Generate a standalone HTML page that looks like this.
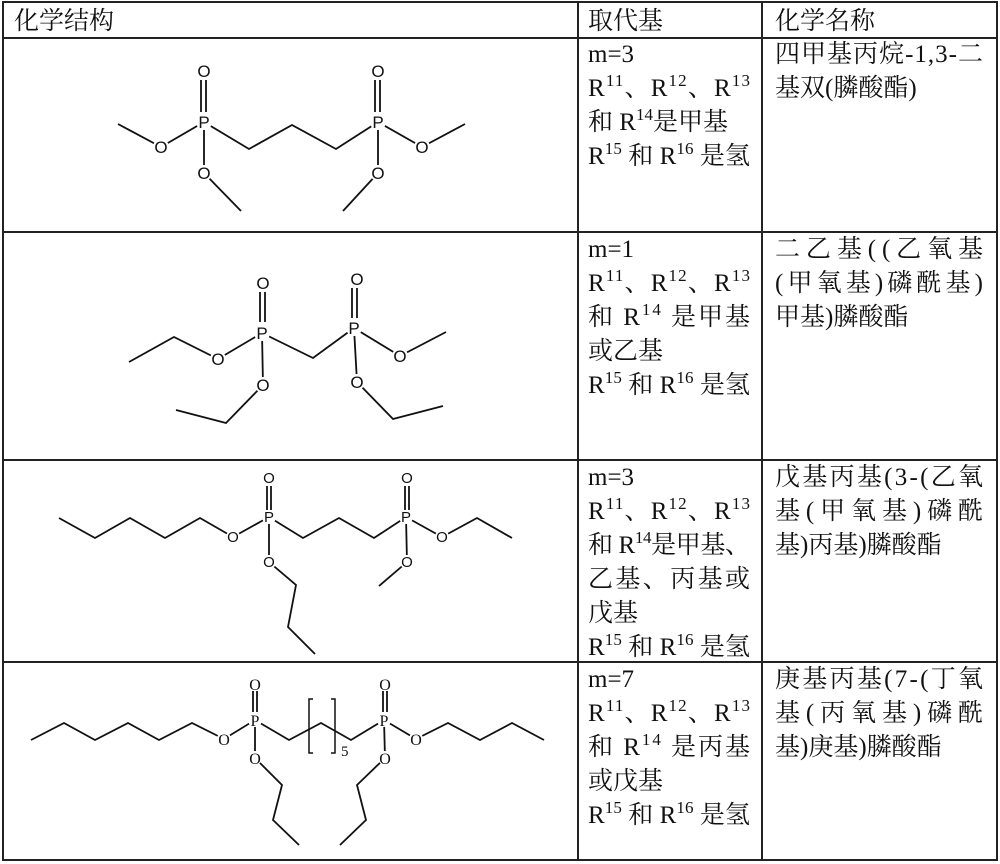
<!DOCTYPE html>
<html><head><meta charset="utf-8"><style>
html,body{margin:0;padding:0;background:#fff;}
svg{display:block;}
.t{font-family:"Liberation Serif","Noto Serif CJK SC",serif;font-size:25px;fill:#111;}
.s{font-size:17px;}
.a{font-family:"Liberation Sans",sans-serif;font-size:17px;fill:#111;text-anchor:middle;}
.b{stroke:#111;stroke-width:1.8;fill:none;}
</style></head><body>
<svg width="1000" height="864" viewBox="0 0 1000 864" xmlns="http://www.w3.org/2000/svg">
<g stroke="#222" stroke-width="2" fill="none">
<rect x="3" y="2" width="994" height="858"/>
<line x1="3" y1="38" x2="997" y2="38"/>
<line x1="3" y1="232" x2="997" y2="232"/>
<line x1="3" y1="460" x2="997" y2="460"/>
<line x1="3" y1="662" x2="997" y2="662"/>
<line x1="578" y1="2" x2="578" y2="860"/>
<line x1="762" y1="2" x2="762" y2="860"/>
</g>
<text class="t" x="14" y="29">化学结构</text>
<text class="t" x="588" y="29">取代基</text>
<text class="t" x="775" y="29">化学名称</text>

<text class="t" x="588" y="62">m=3</text>
<text class="t" x="588" y="96" textLength="162" lengthAdjust="spacing">R<tspan class="s" dy="-10">11</tspan><tspan dy="10">、R</tspan><tspan class="s" dy="-10">12</tspan><tspan dy="10">、R</tspan><tspan class="s" dy="-10">13</tspan></text>
<text class="t" x="588" y="130">和 R<tspan class="s" dy="-10">14</tspan><tspan dy="10">是甲基</tspan></text>
<text class="t" x="588" y="164" textLength="162" lengthAdjust="spacing">R<tspan class="s" dy="-10">15</tspan><tspan dy="10"> 和 R</tspan><tspan class="s" dy="-10">16</tspan><tspan dy="10"> 是氢</tspan></text>

<text class="t" x="588" y="257">m=1</text>
<text class="t" x="588" y="291" textLength="162" lengthAdjust="spacing">R<tspan class="s" dy="-10">11</tspan><tspan dy="10">、R</tspan><tspan class="s" dy="-10">12</tspan><tspan dy="10">、R</tspan><tspan class="s" dy="-10">13</tspan></text>
<text class="t" x="588" y="325" textLength="162" lengthAdjust="spacing">和 R<tspan class="s" dy="-10">14</tspan><tspan dy="10"> 是甲基</tspan></text>
<text class="t" x="588" y="359">或乙基</text>
<text class="t" x="588" y="393" textLength="162" lengthAdjust="spacing">R<tspan class="s" dy="-10">15</tspan><tspan dy="10"> 和 R</tspan><tspan class="s" dy="-10">16</tspan><tspan dy="10"> 是氢</tspan></text>

<text class="t" x="588" y="485">m=3</text>
<text class="t" x="588" y="519" textLength="162" lengthAdjust="spacing">R<tspan class="s" dy="-10">11</tspan><tspan dy="10">、R</tspan><tspan class="s" dy="-10">12</tspan><tspan dy="10">、R</tspan><tspan class="s" dy="-10">13</tspan></text>
<text class="t" x="588" y="553" textLength="162" lengthAdjust="spacing">和 R<tspan class="s" dy="-10">14</tspan><tspan dy="10">是甲基、</tspan></text>
<text class="t" x="588" y="587" textLength="162" lengthAdjust="spacing">乙基、丙基或</text>
<text class="t" x="588" y="621">戊基</text>
<text class="t" x="588" y="655" textLength="162" lengthAdjust="spacing">R<tspan class="s" dy="-10">15</tspan><tspan dy="10"> 和 R</tspan><tspan class="s" dy="-10">16</tspan><tspan dy="10"> 是氢</tspan></text>

<text class="t" x="588" y="687">m=7</text>
<text class="t" x="588" y="721" textLength="162" lengthAdjust="spacing">R<tspan class="s" dy="-10">11</tspan><tspan dy="10">、R</tspan><tspan class="s" dy="-10">12</tspan><tspan dy="10">、R</tspan><tspan class="s" dy="-10">13</tspan></text>
<text class="t" x="588" y="755" textLength="162" lengthAdjust="spacing">和 R<tspan class="s" dy="-10">14</tspan><tspan dy="10"> 是丙基</tspan></text>
<text class="t" x="588" y="789">或戊基</text>
<text class="t" x="588" y="823" textLength="162" lengthAdjust="spacing">R<tspan class="s" dy="-10">15</tspan><tspan dy="10"> 和 R</tspan><tspan class="s" dy="-10">16</tspan><tspan dy="10"> 是氢</tspan></text>

<text class="t" x="775" y="62" textLength="208" lengthAdjust="spacing">四甲基丙烷-1,3-二</text>
<text class="t" x="775" y="96">基双(膦酸酯)</text>
<text class="t" x="775" y="257" textLength="208" lengthAdjust="spacing">二乙基((乙氧基</text>
<text class="t" x="775" y="291" textLength="208" lengthAdjust="spacing">(甲氧基)磷酰基)</text>
<text class="t" x="775" y="325">甲基)膦酸酯</text>
<text class="t" x="775" y="485" textLength="208" lengthAdjust="spacing">戊基丙基(3-(乙氧</text>
<text class="t" x="775" y="519" textLength="208" lengthAdjust="spacing">基(甲氧基)磷酰</text>
<text class="t" x="775" y="553">基)丙基)膦酸酯</text>
<text class="t" x="775" y="687" textLength="208" lengthAdjust="spacing">庚基丙基(7-(丁氧</text>
<text class="t" x="775" y="721" textLength="208" lengthAdjust="spacing">基(丙氧基)磷酰</text>
<text class="t" x="775" y="755">基)庚基)膦酸酯</text>

<g class="b">
<polyline points="118,124 161,147 204,122 249,149 292,125 336,149 378,122 422,147 465,124"/>
<polyline points="204,122 204,173 241,211"/>
<polyline points="378,122 378,173 343,211"/>
<line x1="201" y1="80" x2="201" y2="112"/><line x1="206" y1="80" x2="206" y2="112"/>
<line x1="375" y1="80" x2="375" y2="112"/><line x1="380" y1="80" x2="380" y2="112"/>
</g>
<g fill="#fff"><circle cx="204" cy="71" r="8"/><circle cx="204" cy="122" r="8"/><circle cx="161" cy="147" r="8"/><circle cx="204" cy="173" r="8"/>
<circle cx="378" cy="71" r="8"/><circle cx="378" cy="122" r="8"/><circle cx="422" cy="147" r="8"/><circle cx="378" cy="173" r="8"/></g>
<g class="a"><text x="204" y="77">O</text><text x="204" y="128">P</text><text x="161" y="153">O</text><text x="204" y="179">O</text>
<text x="378" y="77">O</text><text x="378" y="128">P</text><text x="422" y="153">O</text><text x="378" y="179">O</text></g>

<g class="b">
<polyline points="129,362 174,337 218,359 262,333 313,358 354,328 400,356 446,332"/>
<polyline points="262,333 263,385 226,423 176,410"/>
<polyline points="354,328 357,382 393,419 443,406"/>
<line x1="260" y1="292" x2="260" y2="322"/><line x1="265" y1="292" x2="265" y2="322"/>
<line x1="352" y1="288" x2="352" y2="318"/><line x1="357" y1="288" x2="357" y2="318"/>
</g>
<g fill="#fff"><circle cx="263" cy="283" r="8"/><circle cx="262" cy="333" r="8"/><circle cx="218" cy="359" r="8"/><circle cx="263" cy="385" r="8"/>
<circle cx="357" cy="279" r="8"/><circle cx="354" cy="328" r="8"/><circle cx="400" cy="356" r="8"/><circle cx="357" cy="382" r="8"/></g>
<g class="a"><text x="263" y="289">O</text><text x="262" y="339">P</text><text x="218" y="365">O</text><text x="263" y="391">O</text>
<text x="357" y="285">O</text><text x="354" y="334">P</text><text x="400" y="362">O</text><text x="357" y="388">O</text></g>

<g class="b">
<polyline points="59,518 95,538 130,518 165,538 200,518 233,537 269,517 303,538 339,518 374,538 406,517 442,537 477,518 512,538"/>
<polyline points="269,517 269,562 296,585 288,627 315,654"/>
<polyline points="406,517 407,562 379,586"/>
<line x1="267" y1="486" x2="267" y2="510"/><line x1="271" y1="486" x2="271" y2="510"/>
<line x1="405" y1="486" x2="405" y2="510"/><line x1="409" y1="486" x2="409" y2="510"/>
</g>
<g fill="#fff"><circle cx="269" cy="478" r="7"/><circle cx="269" cy="517" r="7"/><circle cx="233" cy="537" r="7"/><circle cx="269" cy="562" r="7"/>
<circle cx="407" cy="478" r="7"/><circle cx="406" cy="517" r="7"/><circle cx="442" cy="537" r="7"/><circle cx="407" cy="562" r="7"/></g>
<g class="a" style="font-size:15px"><text x="269" y="483">O</text><text x="269" y="522">P</text><text x="233" y="542">O</text><text x="269" y="567">O</text>
<text x="407" y="483">O</text><text x="406" y="522">P</text><text x="442" y="542">O</text><text x="407" y="567">O</text></g>

<g class="b">
<polyline points="31,740 64,723 95,740 128,723 159,740 192,723 224,739 255,720 289,740 321,723 351,740 384,720 416,739 448,723 480,740 512,723 544,740"/>
<polyline points="255,720 255,758 282,785 273,820 299,845"/>
<polyline points="384,720 385,758 357,785 366,820 340,845"/>
<line x1="253" y1="691" x2="253" y2="712"/><line x1="257" y1="691" x2="257" y2="712"/>
<line x1="383" y1="691" x2="383" y2="712"/><line x1="387" y1="691" x2="387" y2="712"/>
<polyline points="313,699 309,699 309,753 313,753" stroke-width="1.5"/>
<polyline points="331,699 335,699 335,753 331,753" stroke-width="1.5"/>
</g>
<text x="341" y="756" style="font-family:'Liberation Serif',serif;font-size:15px;fill:#111">5</text>
<g fill="#fff"><circle cx="255" cy="684" r="7"/><circle cx="255" cy="720" r="7"/><circle cx="224" cy="739" r="7"/><circle cx="255" cy="758" r="7"/>
<circle cx="385" cy="684" r="7"/><circle cx="384" cy="720" r="7"/><circle cx="416" cy="739" r="7"/><circle cx="385" cy="758" r="7"/></g>
<g class="a" style="font-family:'Liberation Serif',serif;font-size:16px"><text x="255" y="690">O</text><text x="255" y="726">P</text><text x="224" y="745">O</text><text x="255" y="764">O</text>
<text x="385" y="690">O</text><text x="384" y="726">P</text><text x="416" y="745">O</text><text x="385" y="764">O</text></g>
</svg>
</body></html>
